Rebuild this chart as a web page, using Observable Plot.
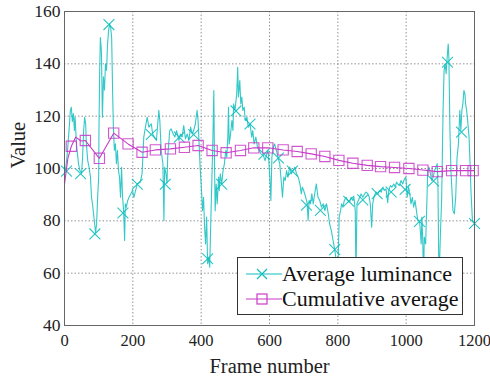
<!DOCTYPE html>
<html><head><meta charset="utf-8">
<script src="https://cdn.jsdelivr.net/npm/d3@7"></script>
<script src="https://cdn.jsdelivr.net/npm/@observablehq/plot@0.6"></script>
<style>
body{margin:0;background:#fff;}
#wrap{position:relative;width:490px;height:377px;font-family:'Liberation Serif','Times New Roman',serif;}
#wrap svg text{font-family:'Liberation Serif','Times New Roman',serif;}
#legend{position:absolute;left:237px;top:257px;width:226px;height:58px;background:#fff;border:1px solid #333;box-sizing:border-box;}
#legend .row{position:absolute;left:0;height:24px;width:100%;}
#legend svg{position:absolute;left:0;top:0;}
#legend span{position:absolute;left:44px;top:0;font-size:22px;line-height:24px;color:#111;white-space:nowrap;font-family:'Liberation Serif','Times New Roman',serif;}
</style></head><body><div id="wrap"></div>
<script>
const xTicks = [0, 200, 400, 600, 800, 1000, 1200];
const yTicks = [40, 60, 80, 100, 120, 140, 160];
const seriesNames = ["Average luminance", "Cumulative average"];

const lumFrames = [0,4,9,14,17,20,23,26,29,31,35,38,41,45,50,53,56,59,62,64,68,72,76,79,82,85,88,91,94,97,100,101,103,105,108,111,114,117,120,123,126,129,132,135,138,141,143,146,149,152,155,158,161,164,167,170,173,176,178,181,185,189,194,199,
203,213,222,227,232,242,247,254,258,263,269,276,279,283,288,291,293,297,300,302,308,312,318,323,328,335,339,344,349,354,359,364,369,374,378,383,388,391,394,397,400,
404,407,410,413,416,419,422,425,428,431,434,437,439,441,444,447,451,453,456,460,464,468,472,475,478,480,482,485,490,493,495,499,504,507,509,513,516,519,522,526,529,534,538,543,548,551,555,560,565,570,575,582,587,592,596,601,604,607,611,615,620,625,630,635,638,642,646,650,654,659,664,669,674,679,684,689,693,696,700,706,710,713,716,720,724,728,733,737,742,747,752,757,762,767,772,776,781,786,791,796,800,
804,808,811,815,819,824,829,834,839,844,847,851,853,856,860,864,868,873,878,883,888,892,895,899,902,907,912,917,922,927,932,936,941,946,949,954,958,964,968,972,975,980,985,990,995,999,
1003,1007,1010,1014,1018,1022,1026,1030,1034,1038,1040,1044,1046,1048,1051,1053,1057,1061,1063,1067,1071,1075,1079,1083,1087,1091,1093,1096,1100,1104,1108,1111,1114,1117,1120,1123,1125,1128,1131,1133,1137,1141,1145,1149,1153,1157,1160,1163,1166,1169,1172,1174,1177,1180,1184,1187,1190,1194,1200];
const lumValues = [98,100.5,107,116,122,123.4,118,121,114.5,119.6,109.4,105.6,101.8,99.2,98.2,104.3,114.5,119.6,117,109.4,103,100.5,96.7,89,86.5,82.7,79,75.5,79,89,96.7,116,137.5,150,145,119.6,135,130,140,137.5,147.6,152.7,155.3,154,150,128.5,116,107,109.4,101.8,107,99.2,96.7,89,100.5,89,84,72.5,86.5,85.2,87.8,89,90.3,91.6,
89,94.1,94.8,98,112,119.6,115.8,117.1,113.2,112,110.7,122.2,118.3,106.9,101.8,80.1,100.5,98,94.4,104.3,114.5,115.2,113.2,112,114.5,110.7,113.2,112,116.4,111.3,113.2,110.7,115.8,113.2,114.5,117.1,122.2,118.3,109.4,100.5,94.1,
83.9,89,77.6,71.2,81.4,63.6,66.1,62.3,78.8,94.1,109.4,129.8,103,83.9,94.1,86.5,96.7,91.6,98,94.1,99.2,101.8,106.9,104.3,112,123.4,109.4,112,118.3,114.5,124.7,122.2,128.5,138.7,127.3,133.6,124.7,127.3,122.2,123.4,118.3,119.6,115.8,117.1,112,114.5,109.4,112,108.1,106.9,105.6,105,103,105.6,106.9,96.7,87.8,104.3,108.1,109.4,106.9,104.3,101.8,94.1,89,96.7,95.4,99.2,96.7,100.5,98,99.2,100.5,98,96.7,94.1,90.3,92.9,91.6,89,87,80.1,87.8,86.5,90.3,86.5,91,94.1,89,87.8,85.2,86.5,83.9,86.5,82.7,78.8,76.3,72.5,69,64,60,
81.4,83.9,86.5,85.2,87.8,89,87.8,87.1,89,87.8,89,83.9,58,86.5,87.8,89,90.3,89,90.3,91,90.3,89,86.5,77.6,86.5,89.7,91,90.3,91.6,91,92.9,91.6,92.2,86.9,91.6,93.5,92.9,94.1,92.9,94.8,94.1,93.5,95.4,94.1,96,96.7,
89,92.9,91,86.5,89,85.2,87.8,83.9,80.1,80,78.8,71.2,81.4,75,58,73.8,71.2,89,99.2,100.5,98,95.4,96.7,99.2,100.5,101.8,94.1,56,73.8,89,122.2,137.5,140,136.2,142.5,147.6,142.5,115.8,99.2,94.1,83.9,82.7,89,104.3,109.4,122.2,114.5,122.2,124.7,129.8,128.5,124.7,122.2,118.3,112,101.8,90.3,80.1,79];

const lumMarkFrames = [6,47,89,130,171,213,254,295,336,378,419,460,502,543,584,626,667,708,749,791,832,873,915,956,997,1039,1080,1121,1162,1200];
const lumMarkValues = [99,98,75,155,83,94,113,94,112,113,65.5,94,122,117,105.5,104,99,86,84,69,87.5,88,90.4,91,92,79.8,95.2,140.6,113.9,79];

const avgFrames = [0,10,20,33,48,61,102,144,186,227,266,310,351,391,432,473,515,554,595,640,681,722,762,803,844,886,925,966,1008,1049,1091,1133,1174,1196,1200];
const avgValues = [94,104,108.5,112,110.5,110.7,103.9,113.5,109.4,106.2,107.1,107.5,108.1,108.8,106.9,106.0,106.9,107.9,107.9,107.1,106.5,105.6,104.6,103.1,102.0,101.2,100.7,100.4,100.0,99.4,98.8,99.2,99.2,99.2,99.2];

const sqFrames = [20,61,102,144,186,227,266,310,351,391,432,473,515,554,595,640,681,722,762,803,844,886,925,966,1008,1049,1091,1133,1174,1196];
const sqValues = [108.5,110.7,103.9,113.5,109.4,106.2,107.1,107.5,108.1,108.8,106.9,106.0,106.9,107.9,107.9,107.1,106.5,105.6,104.6,103.1,102.0,101.2,100.7,100.4,100.0,99.4,98.8,99.2,99.2,99.2];

const cyan = "#10bebe";
const magenta = "#c83ac8";
const serif = "'Liberation Serif','Times New Roman',serif";

const lum = lumFrames.map((f, i) => ({f, v: lumValues[i]}));
const lumMarks = lumMarkFrames.map((f, i) => ({f, v: lumMarkValues[i]}));
const avg = avgFrames.map((f, i) => ({f, v: avgValues[i]}));
const sq = sqFrames.map((f, i) => ({f, v: sqValues[i]}));

const chart = Plot.plot({
  width: 490, height: 377,
  marginLeft: 64, marginRight: 16, marginTop: 11, marginBottom: 52,
  style: {fontFamily: serif, fontSize: "17px", color: "#222", background: "white", overflow: "visible"},
  x: {domain: [0, 1200]},
  y: {domain: [40, 160]},
  marks: [
    Plot.gridX(xTicks, {stroke: "#888", strokeOpacity: 0.9, strokeDasharray: "1.5,2"}),
    Plot.gridY(yTicks, {stroke: "#888", strokeOpacity: 0.9, strokeDasharray: "1.5,2"}),
    Plot.line(lum, {x: "f", y: "v", stroke: cyan, strokeWidth: 1.1, strokeOpacity: 0.85}),
    Plot.dot(lumMarks, {x: "f", y: "v", symbol: "times", r: 5, stroke: cyan, strokeWidth: 1.1, strokeOpacity: 0.9}),
    Plot.line(avg, {x: "f", y: "v", stroke: magenta, strokeWidth: 1.1}),
    Plot.dot(sq, {x: "f", y: "v", symbol: "square", r: 5.8, stroke: magenta, fill: "none", strokeWidth: 1.1, strokeOpacity: 0.85}),
    Plot.frame({stroke: "#666"}),
    Plot.axisX(xTicks, {tickSize: 0, tickPadding: 9, label: null, fontSize: 16.5, tickFormat: d => String(d)}),
    Plot.axisY(yTicks, {tickSize: 0, tickPadding: 4, label: null, fontSize: 17.5, tickFormat: d => String(d)}),
    Plot.text(["Frame number"], {frameAnchor: "bottom", dy: 47, fontSize: 20.5}),
    Plot.text(["Value"], {frameAnchor: "left", dx: -46, rotate: -90, fontSize: 20.5})
  ]
});
const wrap = document.getElementById("wrap");
wrap.appendChild(chart);

const legend = document.createElement("div");
legend.id = "legend";
const rows = [
  {name: seriesNames[0], color: cyan, sym: "times", top: 4},
  {name: seriesNames[1], color: magenta, sym: "square", top: 29}
];
for (const r of rows) {
  const row = document.createElement("div");
  row.className = "row";
  row.style.top = r.top + "px";
  const mk = r.sym === "times"
    ? `<path d="M19,7L29,17M29,7L19,17" stroke="${r.color}" stroke-width="1.2" fill="none"/>`
    : `<rect x="19" y="7" width="10" height="10" stroke="${r.color}" stroke-width="1.2" fill="none"/>`;
  row.innerHTML = `<svg width="46" height="24"><line x1="8" x2="44" y1="12" y2="12" stroke="${r.color}" stroke-width="1.2"/>${mk}</svg><span>${r.name}</span>`;
  legend.appendChild(row);
}
wrap.appendChild(legend);
</script>
</body></html>
